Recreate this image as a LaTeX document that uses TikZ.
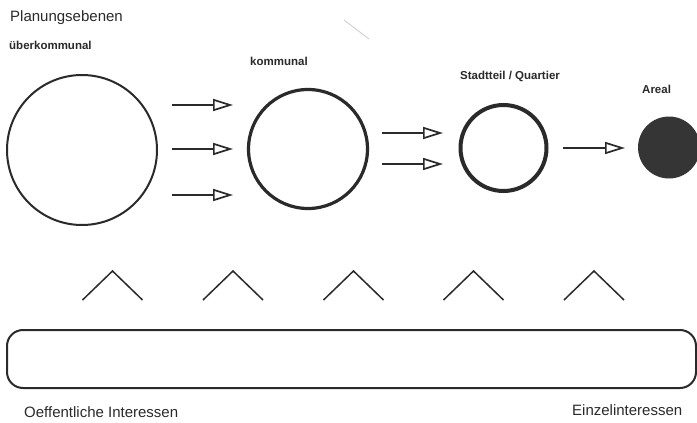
\documentclass[tikz,border=0pt]{standalone}
\usepackage{fontspec}
\setmainfont{Liberation Sans}
\usetikzlibrary{arrows.meta}
\definecolor{ink}{HTML}{2A2A2A}
\tikzset{
  lbl/.style={inner sep=0pt, anchor=base west, text=ink, font=\fontsize{11.5}{13}\selectfont\bfseries},
  biglbl/.style={inner sep=0pt, anchor=base west, text=ink, font=\fontsize{15}{18}\selectfont},
  ring/.style={circle, draw=ink, inner sep=0pt},
  flow/.style={draw=ink, line width=1.7pt, -{Triangle[open, length=20pt, width=12pt, line width=1.7pt]}},
  chev/.style={draw=ink, line width=1.5pt},
}
\begin{document}
\begin{tikzpicture}[x=1pt,y=-1pt]
\useasboundingbox (0,0) rectangle (697,423);
\fill[white] (0,0) rectangle (697,423);

% titles
\node[biglbl] (title) at (10,21) {Planungsebenen};
\node[lbl] (l1) at (9,49) {überkommunal};
\node[lbl] (l2) at (250,65) {kommunal};
\node[lbl] (l3) at (460,79) {Stadtteil / Quartier};
\node[lbl] (l4) at (642,93) {Areal};

% circles
\node[ring, line width=2pt, minimum size=150pt] (c1) at (82,150) {};
\node[ring, line width=3.2pt, minimum size=119pt] (c2) at (308,149) {};
\node[ring, line width=4pt, minimum size=86pt] (c3) at (503.5,148) {};
\node[circle, fill=ink!95, inner sep=0pt, minimum size=62pt] (c4) at (669,147.5) {};

% arrows
\coordinate (a1s) at (172,105); \coordinate (a1e) at (233,105);
\coordinate (a2s) at (172,149); \coordinate (a2e) at (233,149);
\coordinate (a3s) at (172,195); \coordinate (a3e) at (233,195);
\coordinate (b1s) at (382,133); \coordinate (b1e) at (443,133);
\coordinate (b2s) at (382,164); \coordinate (b2e) at (443,164);
\coordinate (d1s) at (563,148); \coordinate (d1e) at (625,148);
\draw[flow] (a1s) -- (a1e);
\draw[flow] (a2s) -- (a2e);
\draw[flow] (a3s) -- (a3e);
\draw[flow] (b1s) -- (b1e);
\draw[flow] (b2s) -- (b2e);
\draw[flow] (d1s) -- (d1e);

% chevrons
\foreach \x in {112.5,233,353.5,473.5,594}{
  \draw[chev] (\x-30,300) -- (\x,271) -- (\x+30,300);
}

% bar
\draw[ink, line width=2pt, rounded corners=16pt] (7,330) rectangle (696,388);

% scan mark
\draw[gray!40, line width=0.8pt] (344,20) -- (369,39);

% bottom labels
\node[biglbl] (pub) at (24,417) {Oeffentliche Interessen};
\node[biglbl] (ind) at (572,415) {Einzelinteressen};
\end{tikzpicture}
\end{document}
